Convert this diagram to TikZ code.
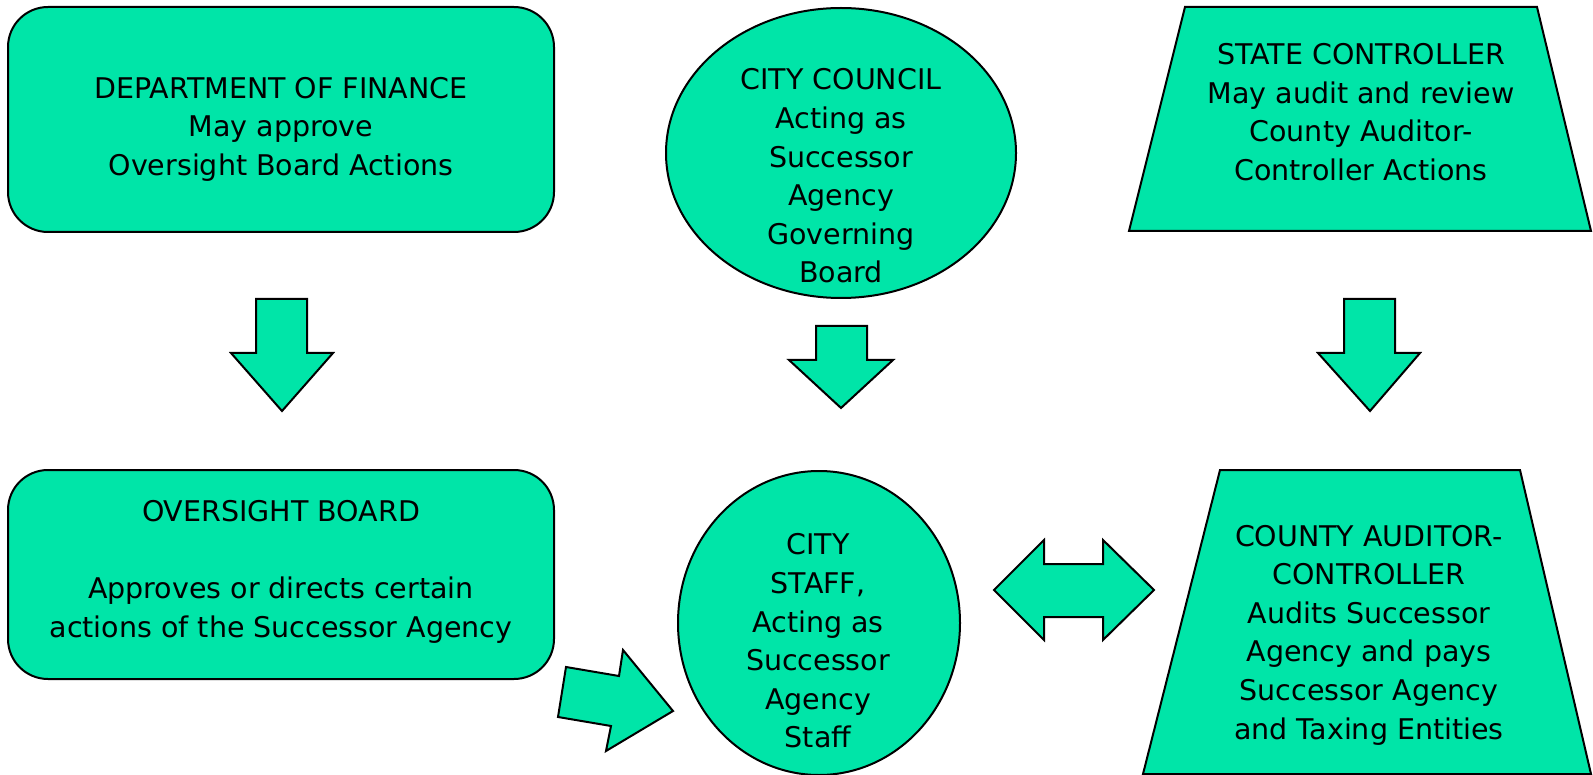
\documentclass[tikz,border=0pt]{standalone}
\usepackage{fontspec}
\setmainfont{DejaVu Sans}
\usetikzlibrary{shapes.geometric}
\definecolor{fillg}{HTML}{00E5A8}
\tikzset{
  shp/.style={draw=black, fill=fillg, line width=2pt, line join=miter},
  lbl/.style={align=center, inner sep=0pt, font=\fontsize{28.5}{38.6}\selectfont}
}
\begin{document}
\begin{tikzpicture}[x=1pt,y=-1pt]
\useasboundingbox (0,0) rectangle (1593,775);
% shapes
\draw[shp, rounded corners=40pt] (8,7) rectangle (554,232);
\draw[shp] (841,153) ellipse [x radius=175, y radius=145];
\draw[shp] (1185,7) -- (1537,7) -- (1591,231) -- (1129,231) -- cycle;
\draw[shp, rounded corners=40pt] (8,470) rectangle (554,679);
\draw[shp] (819,623) ellipse [x radius=141, y radius=152];
\draw[shp] (1220,470) -- (1520,470) -- (1591,774) -- (1143,774) -- cycle;
% block arrows
\draw[shp] (256,299) -- (307,299) -- (307,353) -- (333,353) -- (282,411) -- (231,353) -- (256,353) -- cycle;
\draw[shp] (816,326) -- (867,326) -- (867,360) -- (893,360) -- (841,408) -- (789,360) -- (816,360) -- cycle;
\draw[shp] (1344,299) -- (1395,299) -- (1395,353) -- (1420,353) -- (1370,411) -- (1318,353) -- (1344,353) -- cycle;
\draw[shp] (994,590) -- (1044,540) -- (1044,564) -- (1103,564) -- (1103,540) -- (1154,590) -- (1103,640) -- (1103,617) -- (1044,617) -- (1044,640) -- cycle;
\draw[shp] (566,667) -- (619,676) -- (623,650) -- (673,711) -- (606,751) -- (611,726) -- (558,717) -- cycle;
% texts
\node[lbl] (dof) at (281,129) {DEPARTMENT OF FINANCE\\May approve\\Oversight Board Actions};
\node[lbl] (cc) at (841,176) {CITY COUNCIL\\Acting as\\Successor\\Agency\\Governing\\Board};
\node[lbl] (sc) at (1361,112) {STATE CONTROLLER\\May audit and review\\County Auditor-\\Controller Actions};
\node[lbl] (ob) at (281,572) {OVERSIGHT BOARD\\[38.6pt]Approves or directs certain\\actions of the Successor Agency};
\node[lbl] (cs) at (818,641) {CITY\\STAFF,\\Acting as\\Successor\\Agency\\Staff};
\node[lbl] (cac) at (1369,635) {COUNTY AUDITOR-\\CONTROLLER\\Audits Successor\\Agency and pays\\Successor Agency\\and Taxing Entities};
\end{tikzpicture}
\end{document}
